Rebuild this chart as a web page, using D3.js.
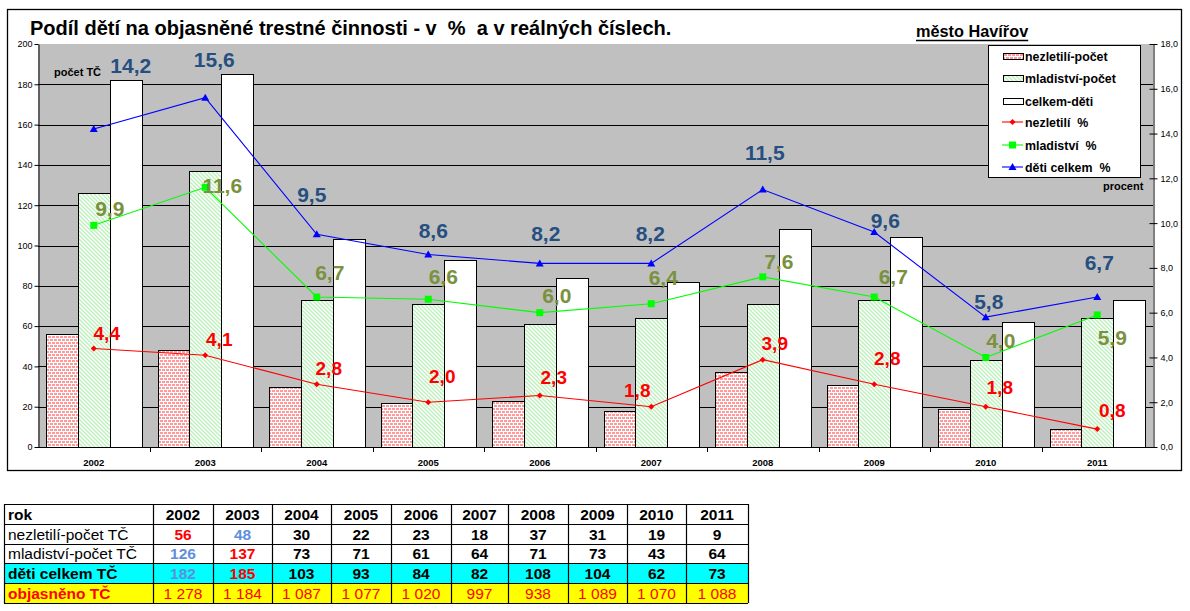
<!DOCTYPE html>
<html><head><meta charset="utf-8">
<script src="https://cdn.jsdelivr.net/npm/d3@7"></script>
<style>body{margin:0;background:#fff;} text{font-family:Arial,"Liberation Sans",sans-serif;}</style>
</head><body>
<svg id="c" width="1190" height="611"></svg>
<script>
// ---------- data ----------
const years = ["2002","2003","2004","2005","2006","2007","2008","2009","2010","2011"];
const nezletiliPocet = [56,48,30,22,23,18,37,31,19,9];
const mladistviPocet = [126,137,73,71,61,64,71,73,43,64];
const celkemDeti = [182,185,103,93,84,82,108,104,62,73];
const objasneno = [1278,1184,1087,1077,1020,997,938,1089,1070,1088];
const nezletiliPct = [4.4,4.1,2.8,2.0,2.3,1.8,3.9,2.8,1.8,0.8];
const mladistviPct = [9.9,11.6,6.7,6.6,6.0,6.4,7.6,6.7,4.0,5.9];
const celkemPct = [14.2,15.6,9.5,8.6,8.2,8.2,11.5,9.6,5.8,6.7];
const leftTicks = [0,20,40,60,80,100,120,140,160,180,200];
const rightTicks = [0,2,4,6,8,10,12,14,16,18];
const seriesNames = ["nezletilí-počet","mladiství-počet","celkem-děti","nezletilí  %","mladiství  %","děti celkem  %"];
const rowLabels = ["rok","nezletilí-počet TČ","mladiství-počet TČ","děti celkem TČ","objasněno TČ"];

// label placement (manual, px offsets from point)
const lblBlue = {dx:[37,9,-5,5,6,-1,2,11,3,2], dy:[-56,-31,-32,-16,-22,-22,-30,-4,-8,-27]};
const lblGreen = {dx:[16,17,13,15,17,12,16,19,15,15], dy:[-9,6,-17,-15,-10,-19,-8,-13,-9,30]};
const lblRed = {dx:[13,14,12,14,14,-14,12,13,14,15], dy:[-8,-9,-9,-19,-12,-10,-10,-19,-13,-12]};

const svg = d3.select("#c");
const X0=38, X1=1153, YT=44, YB=447;

const defs = svg.append("defs");
const pRed = defs.append("pattern").attr("id","pRed").attr("patternUnits","userSpaceOnUse").attr("width",8).attr("height",6);
pRed.append("rect").attr("width",8).attr("height",6).attr("fill","#fff");
[[0,0],[4,0],[2,3],[6,3]].forEach(([x,y])=>pRed.append("rect").attr("x",x).attr("y",y).attr("width",3).attr("height",2).attr("fill","#ff9a9a"));
pRed.append("rect").attr("x",-2).attr("y",3).attr("width",3).attr("height",2).attr("fill","#ff9a9a");
const pGreen = defs.append("pattern").attr("id","pGreen").attr("patternUnits","userSpaceOnUse").attr("width",4).attr("height",4);
pGreen.append("rect").attr("width",4).attr("height",4).attr("fill","#fff");
pGreen.append("path").attr("d","M0,0L4,4M-2,2L2,6M2,-2L6,2").attr("stroke","#bdf0bd").attr("stroke-width",1.4);

// outer frame
svg.append("rect").attr("x",7.5).attr("y",9.5).attr("width",1174).attr("height",461).attr("fill","none").attr("stroke","#000").attr("stroke-width",1.3);

// title
svg.append("text").attr("x",30).attr("y",35).attr("font-size",20).attr("font-weight","bold").style("white-space","pre")
  .text("Podíl dětí na objasněné trestné činnosti - v  %  a v reálných číslech.");
const city = svg.append("text").attr("x",916).attr("y",37).attr("font-size",16.3).attr("font-weight","bold").text("město Havířov");
const cw = city.node().getComputedTextLength();
svg.append("line").attr("x1",916).attr("x2",916+cw).attr("y1",40.5).attr("y2",40.5).attr("stroke","#000").attr("stroke-width",1.6);

// scales
const x = d3.scaleBand().domain(years).range([X0,X1]).padding(0);
const yL = d3.scaleLinear().domain([0,200]).range([YB,YT]);
const yR = d3.scaleLinear().domain([0,18]).range([YB,YT]);
const bw = x.bandwidth(), barW = bw*0.285, off = (bw-3*barW)/2;

// plot area
svg.append("rect").attr("x",X0).attr("y",YT).attr("width",X1-X0).attr("height",YB-YT).attr("fill","#c0c0c0");
svg.append("g").selectAll("line").data(leftTicks.filter(t=>t>0&&t<200)).join("line")
  .attr("x1",X0).attr("x2",X1).attr("y1",d=>Math.round(yL(d))+0.5).attr("y2",d=>Math.round(yL(d))+0.5).attr("stroke","#000");

// bars
const barSets = [[nezletiliPocet,"url(#pRed)"],[mladistviPocet,"url(#pGreen)"],[celkemDeti,"#fff"]];
barSets.forEach(([vals,fill],k)=>{
  svg.append("g").selectAll("rect").data(vals).join("rect")
    .attr("x",(d,i)=>Math.round(x(years[i])+off+k*barW)+0.5)
    .attr("y",d=>Math.round(yL(d))+0.5)
    .attr("width",Math.round(barW))
    .attr("height",d=>Math.round(YB-yL(d)))
    .attr("fill",fill).attr("stroke","#000").attr("stroke-width",1);
});

// axes
const axL = svg.append("g").attr("transform",`translate(${X0+0.5},0)`).call(d3.axisLeft(yL).tickValues(leftTicks).tickSize(4).tickSizeOuter(0).tickPadding(2));
axL.selectAll("text").attr("font-size",9).attr("fill","#000").attr("font-family","Arial");
axL.select(".domain").attr("stroke","#000");
const axR = svg.append("g").attr("transform",`translate(${X1+0.5},0)`).call(d3.axisRight(yR).tickValues(rightTicks).tickSize(4).tickSizeOuter(0).tickPadding(3).tickFormat(d=>d3.format(".1f")(d).replace(".",",")));
axR.selectAll("text").attr("font-size",9).attr("fill","#000").attr("font-family","Arial");
axR.selectAll(".tick line").attr("x1",-4);
// bottom axis
svg.append("line").attr("x1",X0).attr("x2",X1).attr("y1",YB+0.5).attr("y2",YB+0.5).attr("stroke","#000");
svg.append("g").selectAll("line").data(years.slice(1)).join("line")
  .attr("x1",d=>Math.round(x(d))+0.5).attr("x2",d=>Math.round(x(d))+0.5).attr("y1",YB).attr("y2",YB+5).attr("stroke","#000");
svg.append("g").selectAll("text").data(years).join("text")
  .attr("x",d=>x(d)+bw/2).attr("y",YB+19).attr("text-anchor","middle").attr("font-size",9.5).attr("font-weight","bold").text(d=>d);

svg.append("text").attr("x",54).attr("y",76).attr("font-size",11).attr("font-weight","bold").text("počet TČ");
svg.append("text").attr("x",1103).attr("y",190).attr("font-size",11).attr("font-weight","bold").text("procent");

// lines
const cx = i => x(years[i])+bw/2;
const lineGen = d3.line().x((d,i)=>cx(i)).y(d=>yR(d));
function marker(g,type,color,px,py){
  if(type==="diamond") g.append("path").attr("d",`M${px},${py-3}L${px+3},${py}L${px},${py+3}L${px-3},${py}Z`).attr("fill",color);
  if(type==="square") g.append("rect").attr("x",px-3.5).attr("y",py-3.5).attr("width",7).attr("height",7).attr("fill",color);
  if(type==="tri") g.append("path").attr("d",`M${px},${py-4}L${px+4},${py+3}L${px-4},${py+3}Z`).attr("fill",color);
}
const lineSets = [[nezletiliPct,"#ff0000","diamond"],[mladistviPct,"#00ff00","square"],[celkemPct,"#0000ff","tri"]];
lineSets.forEach(([vals,color,type])=>{
  const g = svg.append("g");
  g.append("path").attr("d",lineGen(vals)).attr("fill","none").attr("stroke",color).attr("stroke-width",1.1);
  vals.forEach((v,i)=>marker(g,type,color,cx(i),yR(v)));
});

// data labels
const fmt = v => d3.format(".1f")(v).replace(".",",");
[[celkemPct,lblBlue,"#264f80",21],[mladistviPct,lblGreen,"#7a913e",21],[nezletiliPct,lblRed,"#ff0000",19]].forEach(([vals,lb,col,fs])=>{
  svg.append("g").selectAll("text").data(vals).join("text")
    .attr("x",(d,i)=>cx(i)+lb.dx[i]).attr("y",(d,i)=>yR(d)+lb.dy[i])
    .attr("text-anchor","middle").attr("font-size",fs).attr("font-weight","bold").attr("fill",col).text(d=>fmt(d));
});

// legend
const lg = svg.append("g");
lg.append("rect").attr("x",988.5).attr("y",45.5).attr("width",152).attr("height",132).attr("fill","#fff").attr("stroke","#000");
const lys = [56,78,101,122,145,167];
const lfill = ["url(#pRed)","url(#pGreen)","#fff"];
seriesNames.forEach((n,i)=>{
  const cy = lys[i];
  if(i<3){
    lg.append("rect").attr("x",1003.5).attr("y",cy-2.5).attr("width",20).attr("height",6).attr("fill",lfill[i]).attr("stroke","#000");
  } else {
    const [_,col,type] = lineSets[i-3];
    lg.append("line").attr("x1",1002).attr("x2",1023).attr("y1",cy).attr("y2",cy).attr("stroke",col).attr("stroke-width",1.1);
    marker(lg,type,col,1012.5,cy);
  }
  lg.append("text").attr("x",1025).attr("y",cy+4.5).attr("font-size",12.4).attr("font-weight","bold").style("white-space","pre").text(n);
});

// table
const colX = [4,153,213,272,331,391,451,508,568,627,686,748];
const rowY = [504,524,544,563,583,603];
const tg = svg.append("g");
tg.append("rect").attr("x",colX[0]).attr("y",rowY[3]).attr("width",colX[11]-colX[0]).attr("height",rowY[4]-rowY[3]).attr("fill","#00ffff");
tg.append("rect").attr("x",colX[0]).attr("y",rowY[4]).attr("width",colX[11]-colX[0]).attr("height",rowY[5]-rowY[4]).attr("fill","#ffff00");
rowY.forEach(y=>tg.append("line").attr("x1",colX[0]).attr("x2",colX[11]).attr("y1",y+0.5).attr("y2",y+0.5).attr("stroke","#000").attr("stroke-width",1.2));
colX.forEach(xx=>tg.append("line").attr("x1",xx+0.5).attr("x2",xx+0.5).attr("y1",rowY[0]).attr("y2",rowY[5]).attr("stroke","#000").attr("stroke-width",1.2));
const rowStyle = [
  {w:"bold",c:"#000"},{w:"normal",c:"#000"},{w:"normal",c:"#000"},{w:"bold",c:"#000"},{w:"bold",c:"#ff0000"}];
rowLabels.forEach((t,r)=>{
  tg.append("text").attr("x",8).attr("y",rowY[r+1]-4).attr("font-size",15.5).attr("font-weight",rowStyle[r].w).attr("fill",rowStyle[r].c).text(t);
});
const blueC="#5f8fdc", redC="#ff0000";
const rows = [
  {vals:years, w:"bold", col:()=>"#000"},
  {vals:nezletiliPocet, w:"bold", col:i=>i===0?redC:i===1?blueC:"#000"},
  {vals:mladistviPocet, w:"bold", col:i=>i===0?blueC:i===1?redC:"#000"},
  {vals:celkemDeti, w:"bold", col:i=>i===0?blueC:i===1?redC:"#000"},
  {vals:objasneno.map(v=>v>=1000?Math.floor(v/1000)+" "+String(v%1000).padStart(3,"0"):String(v)), w:"normal", col:()=>redC}
];
rows.forEach((row,r)=>{
  row.vals.forEach((v,i)=>{
    tg.append("text").attr("x",(colX[i+1]+colX[i+2])/2).attr("y",rowY[r+1]-4).attr("text-anchor","middle")
      .attr("font-size",15.5).attr("font-weight",row.w).attr("fill",row.col(i)).style("white-space","pre").text(v);
  });
});
</script>
</body></html>
